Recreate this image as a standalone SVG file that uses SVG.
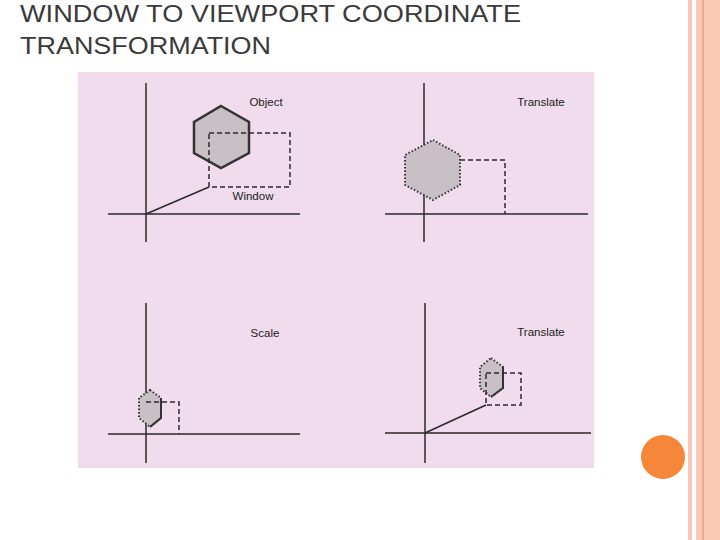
<svg xmlns="http://www.w3.org/2000/svg" width="720" height="540" viewBox="0 0 720 540">
<style>
.ax{stroke:#2a2a2a;stroke-width:1.5;fill:none}
.hx{fill:#c9c0c6;stroke:#333;stroke-width:2.5}
.hd{fill:#c9c0c6;stroke:#333;stroke-width:2;stroke-dasharray:1.5 2}
.dr{fill:none;stroke:#2a2a2a;stroke-width:1.5;stroke-dasharray:5 3}
.lb{font-family:"Liberation Sans",Arial,sans-serif;font-size:11.5px;fill:#222}
.tt{font-family:"Liberation Sans",Arial,sans-serif;font-size:24px;fill:#3a3a3a}
</style>
<rect width="720" height="540" fill="#fff"/>
<rect x="688" y="0" width="4" height="540" fill="#f8c8b4"/>
<rect x="696" y="0" width="24" height="540" fill="#fbc8b6"/>
<rect x="702" y="0" width="2" height="540" fill="#f0a890"/>
<circle cx="663" cy="457" r="22" fill="#f6863a"/>
<text class="tt" x="20" y="22" textLength="501" lengthAdjust="spacingAndGlyphs">WINDOW TO VIEWPORT COORDINATE</text>
<text class="tt" x="20" y="54" textLength="251" lengthAdjust="spacingAndGlyphs">TRANSFORMATION</text>
<rect x="78" y="72" width="516" height="396" fill="#f0dcec"/>
<g id="q1">
<path class="ax" d="M146 83V242M108 214H300"/>
<polygon class="hx" points="221,106 249,122 249,153 221,168 194,153 194,122"/>
<rect class="dr" x="209" y="133" width="81" height="54"/>
<path class="ax" d="M146 214L209 187"/>
<text class="lb" x="266" y="106" text-anchor="middle">Object</text>
<text class="lb" x="253" y="200" text-anchor="middle">Window</text>
</g>
<g id="q2">
<path class="ax" d="M424 83V242M385 214H588"/>
<polygon class="hd" points="433,140 460,155 460,185 433,200 405,185 405,155"/>
<path class="dr" d="M460 160H505V214"/>
<text class="lb" x="541" y="106" text-anchor="middle">Translate</text>
</g>
<g id="q3">
<path class="ax" d="M146 303V463M108 434H300"/>
<polygon class="hd" points="150,390 161,398 161,418 150,427 139,418 139,398"/>
<path d="M161 398V418L150 427" fill="none" stroke="#333" stroke-width="2"/>
<path class="dr" d="M146 402H179V434"/>
<text class="lb" x="265" y="337" text-anchor="middle">Scale</text>
</g>
<g id="q4">
<path class="ax" d="M425 303V463M385 433H591"/>
<polygon class="hd" points="491,358 503,367 503,388 491,397 480,388 480,367"/>
<path d="M503 367V388L491 397" fill="none" stroke="#333" stroke-width="2"/>
<rect class="dr" x="486" y="373" width="35" height="32"/>
<path class="ax" d="M425 433L486 405"/>
<text class="lb" x="541" y="336" text-anchor="middle">Translate</text>
</g>
</svg>
